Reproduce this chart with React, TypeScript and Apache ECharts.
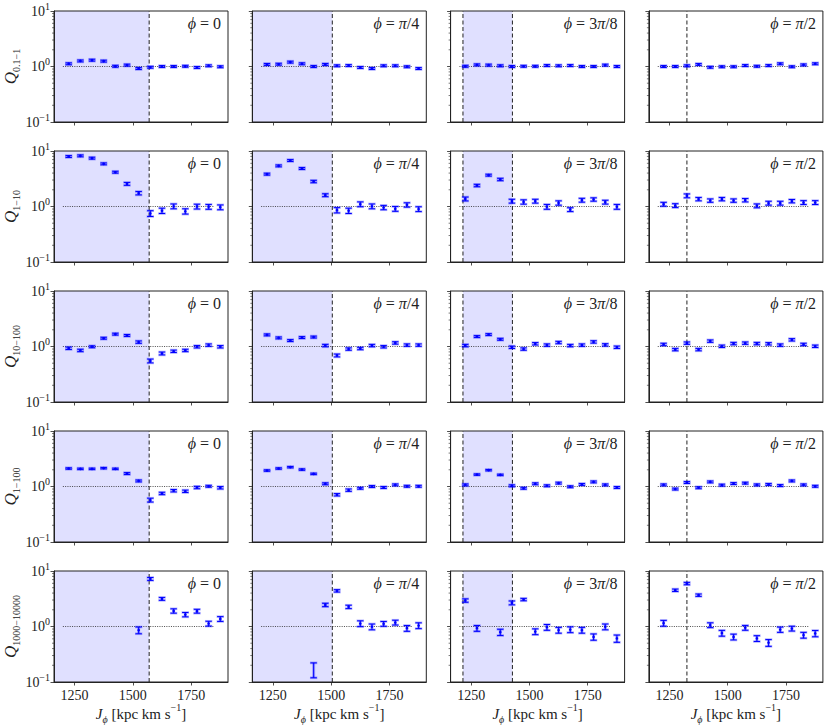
import React, { useEffect, useRef } from "react";
import * as echarts from "echarts";

// ---------- data ----------
const Jphi = [1225, 1275, 1325, 1375, 1425, 1475, 1525, 1575, 1625, 1675, 1725, 1775, 1825, 1875];
const phiLabels = ["0", "π/4", "3π/8", "π/2"];
const qSubscripts = ["0.1−1", "1−10", "10−100", "1−100", "1000−10000"];
const xTickValues = [1250, 1500, 1750];
const minorTickValues = [0.2, 0.3, 0.4, 0.5, 0.6, 0.7, 0.8, 0.9, 2, 3, 4, 5, 6, 7, 8, 9];

// shaded J_phi ranges and dashed lines per phi column
const shadeRanges: (number[] | null)[] = [[1100, 1570], [1100, 1505], [1215, 1427], null];
const dashedLines = [[1570], [1505], [1215, 1427], [1325]];
const refLineRange = [1200, 1850];

// Q_{0.1-1}
const Q01_1_phi0 = [1.12, 1.26, 1.3, 1.25, 1.01, 1.06, 0.92, 0.97, 1.0, 1.0, 1.01, 0.96, 1.03, 0.99];
const Q01_1_phi1 = [1.09, 1.1, 1.2, 1.12, 1.0, 1.09, 1.03, 1.04, 0.96, 0.92, 1.03, 1.03, 0.99, 0.92];
const Q01_1_phi2 = [1.01, 1.07, 1.06, 1.03, 1.0, 1.01, 1.01, 1.04, 1.03, 1.04, 1.0, 1.0, 1.06, 1.0];
const Q01_1_phi3 = [1.0, 1.0, 1.03, 1.09, 0.97, 0.99, 0.99, 1.04, 1.01, 1.04, 1.12, 0.99, 1.07, 1.12];
const E01_1_phi0 = [0.04, 0.04, 0.04, 0.04, 0.04, 0.04, 0.04, 0.04, 0.04, 0.04, 0.04, 0.04, 0.04, 0.04];
const E01_1_phi1 = [0.04, 0.04, 0.04, 0.04, 0.04, 0.04, 0.04, 0.04, 0.04, 0.04, 0.04, 0.04, 0.04, 0.04];
const E01_1_phi2 = [0.04, 0.04, 0.04, 0.04, 0.04, 0.04, 0.04, 0.04, 0.04, 0.04, 0.04, 0.04, 0.04, 0.04];
const E01_1_phi3 = [0.04, 0.04, 0.04, 0.04, 0.04, 0.04, 0.04, 0.04, 0.04, 0.04, 0.04, 0.04, 0.04, 0.04];

// Q_{1-10}
const Q1_10_phi0 = [7.96, 8.18, 7.43, 5.87, 4.15, 2.56, 1.74, 0.75, 0.84, 1.01, 0.82, 1.0, 0.99, 0.97];
const Q1_10_phi1 = [3.83, 5.4, 6.74, 4.84, 2.82, 1.6, 0.86, 0.84, 1.1, 1.01, 0.96, 0.91, 1.07, 0.9];
const Q1_10_phi2 = [1.37, 2.39, 3.67, 3.07, 1.25, 1.21, 1.25, 0.99, 1.16, 0.88, 1.3, 1.34, 1.2, 0.99];
const Q1_10_phi3 = [1.1, 1.04, 1.56, 1.36, 1.28, 1.36, 1.28, 1.3, 1.03, 1.15, 1.15, 1.25, 1.18, 1.18];
const E1_10_phi0 = [0.04, 0.04, 0.04, 0.04, 0.04, 0.06, 0.07, 0.12, 0.11, 0.1, 0.11, 0.1, 0.1, 0.1];
const E1_10_phi1 = [0.04, 0.04, 0.04, 0.04, 0.05, 0.06, 0.11, 0.11, 0.1, 0.1, 0.09, 0.1, 0.09, 0.1];
const E1_10_phi2 = [0.08, 0.05, 0.04, 0.05, 0.08, 0.09, 0.08, 0.1, 0.09, 0.08, 0.08, 0.07, 0.08, 0.1];
const E1_10_phi3 = [0.08, 0.08, 0.08, 0.07, 0.07, 0.07, 0.07, 0.07, 0.08, 0.08, 0.08, 0.07, 0.08, 0.08];

// Q_{10-100}
const Q10_100_phi0 = [0.93, 0.85, 0.99, 1.41, 1.67, 1.58, 1.2, 0.55, 0.75, 0.82, 0.85, 0.99, 1.06, 0.99];
const Q10_100_phi1 = [1.62, 1.43, 1.28, 1.45, 1.48, 1.04, 0.69, 0.9, 0.92, 1.04, 0.99, 1.16, 1.06, 1.06];
const Q10_100_phi2 = [1.04, 1.51, 1.64, 1.35, 0.97, 0.9, 1.12, 1.06, 1.18, 1.04, 1.06, 1.21, 1.07, 0.97];
const Q10_100_phi3 = [1.09, 0.88, 1.15, 0.88, 1.25, 1.01, 1.13, 1.15, 1.13, 1.12, 1.06, 1.32, 1.09, 1.01];
const E10_100_phi0 = [0.05, 0.05, 0.04, 0.04, 0.04, 0.04, 0.05, 0.08, 0.06, 0.05, 0.05, 0.05, 0.05, 0.05];
const E10_100_phi1 = [0.04, 0.04, 0.04, 0.04, 0.04, 0.05, 0.06, 0.05, 0.05, 0.05, 0.05, 0.05, 0.05, 0.05];
const E10_100_phi2 = [0.05, 0.04, 0.04, 0.04, 0.05, 0.05, 0.05, 0.05, 0.05, 0.05, 0.05, 0.05, 0.05, 0.05];
const E10_100_phi3 = [0.05, 0.05, 0.05, 0.05, 0.05, 0.05, 0.05, 0.05, 0.05, 0.05, 0.05, 0.05, 0.05, 0.05];

// Q_{1-100}
const Q1_100_phi0 = [2.11, 2.08, 2.08, 2.14, 2.08, 1.71, 1.26, 0.57, 0.75, 0.84, 0.82, 0.96, 1.01, 0.95];
const Q1_100_phi1 = [1.94, 2.11, 2.23, 2.02, 1.69, 1.12, 0.71, 0.86, 0.93, 1.0, 0.96, 1.07, 1.01, 1.01];
const Q1_100_phi2 = [1.07, 1.64, 1.97, 1.62, 1.03, 0.93, 1.12, 1.03, 1.15, 0.99, 1.09, 1.21, 1.07, 0.96];
const Q1_100_phi3 = [1.07, 0.9, 1.18, 0.95, 1.21, 1.06, 1.13, 1.15, 1.07, 1.09, 1.04, 1.26, 1.07, 1.01];
const E1_100_phi0 = [0.03, 0.03, 0.03, 0.03, 0.03, 0.04, 0.04, 0.08, 0.05, 0.05, 0.05, 0.05, 0.04, 0.05];
const E1_100_phi1 = [0.03, 0.03, 0.03, 0.03, 0.03, 0.04, 0.05, 0.05, 0.04, 0.04, 0.04, 0.04, 0.04, 0.04];
const E1_100_phi2 = [0.04, 0.03, 0.03, 0.03, 0.04, 0.04, 0.04, 0.04, 0.04, 0.04, 0.04, 0.04, 0.04, 0.04];
const E1_100_phi3 = [0.04, 0.04, 0.04, 0.04, 0.04, 0.04, 0.04, 0.04, 0.04, 0.04, 0.04, 0.04, 0.04, 0.04];

// Q_{1000-10000}
const Q1000_10000_phi0 = [null, null, null, null, null, null, 0.86, 7.2, 3.15, 1.91, 1.64, 1.89, 1.13, 1.37];
const Q1000_10000_phi1 = [null, null, null, null, 0.17, 2.45, 4.39, 2.26, 1.13, 0.99, 1.12, 1.18, 0.93, 1.04];
const Q1000_10000_phi2 = [2.94, 0.93, null, 0.79, 2.67, 3.06, 0.81, 0.97, 0.86, 0.88, 0.86, 0.65, 0.99, 0.61];
const Q1000_10000_phi3 = [1.15, 4.5, 5.94, 3.67, 1.06, 0.76, 0.65, 0.95, 0.61, 0.51, 0.88, 0.92, 0.7, 0.75];
const E1000_10000_phi0 = [0, 0, 0, 0, 0, 0, 0.14, 0.06, 0.06, 0.09, 0.09, 0.08, 0.1, 0.1];
const E1000_10000_phi1 = [0, 0, 0, 0, 0.3, 0.07, 0.05, 0.07, 0.12, 0.12, 0.1, 0.1, 0.12, 0.12];
const E1000_10000_phi2 = [0.07, 0.12, 0, 0.13, 0.08, 0.05, 0.12, 0.12, 0.12, 0.12, 0.12, 0.13, 0.12, 0.15];
const E1000_10000_phi3 = [0.12, 0.05, 0.05, 0.05, 0.1, 0.12, 0.12, 0.1, 0.12, 0.14, 0.11, 0.1, 0.12, 0.13];

const panelValues = [
  [Q01_1_phi0, Q01_1_phi1, Q01_1_phi2, Q01_1_phi3],
  [Q1_10_phi0, Q1_10_phi1, Q1_10_phi2, Q1_10_phi3],
  [Q10_100_phi0, Q10_100_phi1, Q10_100_phi2, Q10_100_phi3],
  [Q1_100_phi0, Q1_100_phi1, Q1_100_phi2, Q1_100_phi3],
  [Q1000_10000_phi0, Q1000_10000_phi1, Q1000_10000_phi2, Q1000_10000_phi3],
];
const panelErrors = [
  [E01_1_phi0, E01_1_phi1, E01_1_phi2, E01_1_phi3],
  [E1_10_phi0, E1_10_phi1, E1_10_phi2, E1_10_phi3],
  [E10_100_phi0, E10_100_phi1, E10_100_phi2, E10_100_phi3],
  [E1_100_phi0, E1_100_phi1, E1_100_phi2, E1_100_phi3],
  [E1000_10000_phi0, E1000_10000_phi1, E1000_10000_phi2, E1000_10000_phi3],
];

// ---------- layout ----------
const X_MIN = 1162;
const X_MAX = 1908;
const Y_MIN = 0.1;
const Y_MAX = 10;
const GRID_LEFT = 54;
const COL_STEP = 198.3;
const GRID_W = 174;
const GRID_TOP = 11;
const ROW_STEP = 140;
const GRID_H = 111;
const FONT = '"Liberation Serif", "DejaVu Serif", serif';
const INK = "#222222";
const BLUE = "#0000ff";

function phiRich(label: string) {
  const parts = label.split("π");
  let s = "{i|ϕ}{n| = }";
  parts.forEach((p, k) => {
    if (p) s += `{n|${p}}`;
    if (k < parts.length - 1) s += "{i|π}";
  });
  return s;
}

function buildOption() {
  const grid: any[] = [];
  const xAxis: any[] = [];
  const yAxis: any[] = [];
  const series: any[] = [];
  const graphic: any[] = [];

  for (let r = 0; r < 5; r++) {
    for (let c = 0; c < 4; c++) {
      const i = r * 4 + c;
      const left = GRID_LEFT + c * COL_STEP;
      const top = GRID_TOP + r * ROW_STEP;
      grid.push({
        left,
        top,
        width: GRID_W,
        height: GRID_H,
        show: true,
        borderColor: INK,
        borderWidth: 1,
        backgroundColor: "rgba(0,0,0,0)",
        containLabel: false,
        outerBoundsMode: "none",
        z: 10,
      });
      xAxis.push({
        gridIndex: i,
        type: "value",
        min: X_MIN,
        max: X_MAX,
        splitLine: { show: false },
        axisLine: { show: true, lineStyle: { color: INK, width: 1 } },
        axisTick: { show: true, customValues: xTickValues, length: 3.5, lineStyle: { color: INK, width: 0.8 } },
        axisLabel: {
          show: r === 4,
          customValues: xTickValues,
          formatter: (v: number) => String(Math.round(v)),
          fontFamily: FONT,
          fontSize: 14,
          color: INK,
          margin: 6,
        },
        name: r === 4 ? "{i|J}{sub|ϕ}{n| [kpc km s}{sup|−1}{n|]}" : "",
        nameLocation: "middle",
        nameGap: 20,
        nameTextStyle: {
          fontFamily: FONT,
          color: INK,
          rich: {
            i: { fontFamily: FONT, fontStyle: "italic", fontSize: 15, lineHeight: 22, verticalAlign: "middle", color: INK },
            n: { fontFamily: FONT, fontSize: 15, lineHeight: 22, verticalAlign: "middle", color: INK },
            sub: { fontFamily: FONT, fontStyle: "italic", fontSize: 10, lineHeight: 11, verticalAlign: "bottom", color: INK },
            sup: { fontFamily: FONT, fontSize: 10, lineHeight: 11, verticalAlign: "top", color: INK },
          },
        },
        z: 10,
      });
      yAxis.push({
        gridIndex: i,
        type: "log",
        logBase: 10,
        min: Y_MIN,
        max: Y_MAX,
        splitLine: { show: false },
        axisLine: { show: true, lineStyle: { color: INK, width: 1 } },
        axisTick: { show: true, length: 3.5, lineStyle: { color: INK, width: 0.8 } },
        axisLabel: {
          show: c === 0,
          margin: 4,
          formatter: (v: number) => {
            const e = Math.round(Math.log10(v));
            return `{b|10}{s|${e < 0 ? "−" + -e : e}}`;
          },
          rich: {
            b: { fontFamily: FONT, fontSize: 14, lineHeight: 20, verticalAlign: "middle", color: INK },
            s: { fontFamily: FONT, fontSize: 10, lineHeight: 10, verticalAlign: "top", color: INK },
          },
        },
        name: c === 0 ? `{q|Q}{s|${qSubscripts[r]}}` : "",
        nameLocation: "middle",
        nameRotate: 90,
        nameGap: 31,
        nameTextStyle: {
          rich: {
            q: { fontFamily: FONT, fontStyle: "italic", fontSize: 17, lineHeight: 22, verticalAlign: "middle", color: INK },
            s: { fontFamily: FONT, fontSize: 10, lineHeight: 11, verticalAlign: "bottom", color: INK },
          },
        },
        z: 10,
      });

      // shaded region
      const sr = shadeRanges[c];
      if (sr) {
        series.push({
          type: "custom",
          xAxisIndex: i,
          yAxisIndex: i,
          silent: true,
          clip: true,
          z: 1,
          encode: { x: [0, 2], y: 1 },
          data: [[Math.max(sr[0], X_MIN), 1, sr[1]]],
          renderItem: (_p: any, api: any) => {
            const a = api.coord([api.value(0), Y_MAX]);
            const b = api.coord([api.value(2), Y_MIN]);
            return {
              type: "rect",
              shape: { x: a[0], y: a[1], width: b[0] - a[0], height: b[1] - a[1] },
              style: { fill: "rgba(0,0,255,0.12)" },
            };
          },
        });
      }

      // dashed vertical lines
      dashedLines[c].forEach((xv) => {
        series.push({
          type: "line",
          xAxisIndex: i,
          yAxisIndex: i,
          silent: true,
          symbol: "none",
          z: 3,
          lineStyle: { color: INK, width: 1, type: [4, 2.5] },
          data: [
            [xv, Y_MIN],
            [xv, Y_MAX],
          ],
        });
      });

      // reference line at Q = 1
      series.push({
        type: "line",
        xAxisIndex: i,
        yAxisIndex: i,
        silent: true,
        symbol: "none",
        z: 2,
        lineStyle: { color: INK, width: 0.8, type: [1, 1.3] },
        data: [
          [refLineRange[0], 1],
          [refLineRange[1], 1],
        ],
      });

      // minor log ticks
      series.push({
        type: "custom",
        xAxisIndex: i,
        yAxisIndex: i,
        silent: true,
        clip: false,
        z: 10,
        data: minorTickValues.map((v) => [X_MIN, v]),
        renderItem: (_p: any, api: any) => {
          const p = api.coord([api.value(0), api.value(1)]);
          return {
            type: "line",
            shape: { x1: p[0] - 2, y1: p[1], x2: p[0], y2: p[1] },
            style: { stroke: INK, lineWidth: 0.6 },
          };
        },
      });

      // error bars
      const vals = panelValues[r][c];
      const errs = panelErrors[r][c];
      const pts: number[][] = [];
      Jphi.forEach((x, k) => {
        const v = vals[k];
        if (v == null) return;
        const e = errs[k];
        pts.push([x, v, v * (1 - e), v * (1 + e)]);
      });
      series.push({
        type: "custom",
        xAxisIndex: i,
        yAxisIndex: i,
        silent: true,
        clip: false,
        z: 5,
        encode: { x: 0, y: [1, 2, 3] },
        data: pts,
        renderItem: (_p: any, api: any) => {
          const p = api.coord([api.value(0), api.value(1)]);
          const lo = api.coord([api.value(0), api.value(2)]);
          const hi = api.coord([api.value(0), api.value(3)]);
          const x = p[0];
          const cw = 3.2;
          return {
            type: "group",
            children: [
              { type: "line", shape: { x1: x, y1: lo[1], x2: x, y2: hi[1] }, style: { stroke: "rgba(0,0,255,0.3)", lineWidth: 3 } },
              { type: "line", shape: { x1: x - cw - 0.5, y1: lo[1], x2: x + cw + 0.5, y2: lo[1] }, style: { stroke: "rgba(0,0,255,0.3)", lineWidth: 2.6 } },
              { type: "line", shape: { x1: x - cw - 0.5, y1: hi[1], x2: x + cw + 0.5, y2: hi[1] }, style: { stroke: "rgba(0,0,255,0.3)", lineWidth: 2.6 } },
              { type: "line", shape: { x1: x, y1: lo[1], x2: x, y2: hi[1] }, style: { stroke: BLUE, lineWidth: 1 } },
              { type: "line", shape: { x1: x - cw, y1: lo[1], x2: x + cw, y2: lo[1] }, style: { stroke: BLUE, lineWidth: 1 } },
              { type: "line", shape: { x1: x - cw, y1: hi[1], x2: x + cw, y2: hi[1] }, style: { stroke: BLUE, lineWidth: 1 } },
              { type: "circle", shape: { cx: x, cy: p[1], r: 1.3 }, style: { fill: BLUE } },
            ],
          };
        },
      });

      // phi label
      graphic.push({
        type: "text",
        x: left + GRID_W - 7,
        y: top + 4,
        z: 20,
        silent: true,
        style: {
          text: phiRich(phiLabels[c]),
          align: "right",
          verticalAlign: "top",
          rich: {
            i: { fontFamily: FONT, fontStyle: "italic", fontSize: 16, fill: INK },
            n: { fontFamily: FONT, fontSize: 16, fill: INK },
          },
        },
      });
    }
  }

  return {
    animation: false,
    backgroundColor: "#ffffff",
    grid,
    xAxis,
    yAxis,
    series,
    graphic,
  };
}

export default function App() {
  const ref = useRef<HTMLDivElement>(null);
  useEffect(() => {
    if (!ref.current) return;
    const chart = echarts.init(ref.current, undefined, { renderer: "svg" });
    chart.setOption(buildOption() as any);
    return () => {
      chart.dispose();
    };
  }, []);
  return (
    <div
      ref={ref}
      style={{ position: "absolute", left: 0, top: 0, width: 830, height: 727 }}
    />
  );
}
